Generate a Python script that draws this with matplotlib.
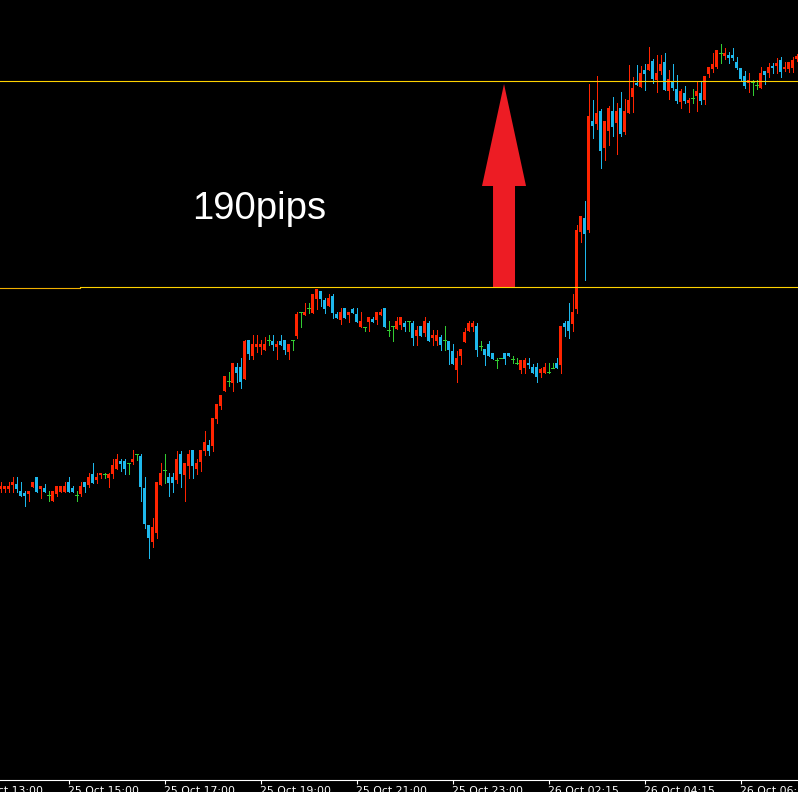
import matplotlib
matplotlib.use('Agg')
import matplotlib.pyplot as plt
import matplotlib.transforms as mtransforms
from matplotlib.patches import FancyArrow

# M5 candles (open / high / low / close), one value per bar
opens = [
    1.0798, 1.0798, 1.0798, 1.0802, 1.0803, 1.0796, 1.0794, 1.0793, 1.0800, 1.0810,
    1.0798, 1.0799, 1.0792, 1.0786, 1.0793, 1.0795, 1.0795, 1.0805, 1.0799, 1.0792,
    1.0793, 1.0805, 1.0802, 1.0813, 1.0807, 1.0812, 1.0813, 1.0809, 1.0813, 1.0818,
    1.0826, 1.0826, 1.0824, 1.0825, 1.0833, 1.0831, 1.0799, 1.0762, 1.0745, 1.0754,
    1.0802, 1.0817, 1.0810, 1.0810, 1.0807, 1.0833, 1.0812, 1.0821, 1.0837, 1.0818,
    1.0825, 1.0836, 1.0842, 1.0841, 1.0868, 1.0881, 1.0896, 1.0906, 1.0904, 1.0920,
    1.0920, 1.0908, 1.0947, 1.0931, 1.0940, 1.0940, 1.0937, 1.0947, 1.0946, 1.0940,
    1.0946, 1.0947, 1.0935, 1.0947, 1.0951, 1.0975, 1.0972, 1.0979, 1.0974, 1.0988,
    1.0996, 1.0987, 1.0981, 1.0991, 1.0973, 1.0967, 1.0979, 1.0972, 1.0978, 1.0973,
    1.0960, 1.0960, 1.0965, 1.0968, 1.0967, 1.0972, 1.0979, 1.0957, 1.0961, 1.0958,
    1.0962, 1.0964, 1.0966, 1.0964, 1.0951, 1.0961, 1.0954, 1.0964, 1.0949, 1.0946,
    1.0950, 1.0947, 1.0946, 1.0936, 1.0917, 1.0931, 1.0945, 1.0956, 1.0960, 1.0961,
    1.0941, 1.0938, 1.0943, 1.0934, 1.0927, 1.0929, 1.0934, 1.0934, 1.0928, 1.0924,
    1.0917, 1.0919, 1.0924, 1.0920, 1.0920, 1.0914, 1.0914, 1.0915, 1.0919, 1.0924,
    1.0922, 1.0964, 1.0966, 1.0963, 1.0978, 1.1055, 1.1069, 1.1057, 1.1166, 1.1163,
    1.1176, 1.1139, 1.1156, 1.1176, 1.1164, 1.1179, 1.1155, 1.1174, 1.1190, 1.1204,
    1.1200, 1.1217, 1.1217, 1.1226, 1.1207, 1.1216, 1.1225, 1.1196, 1.1205, 1.1198,
    1.1185, 1.1194, 1.1184, 1.1189, 1.1191, 1.1194, 1.1187, 1.1213, 1.1218, 1.1220,
    1.1234, 1.1231, 1.1232, 1.1232, 1.1225, 1.1219, 1.1211, 1.1204, 1.1205, 1.1202,
    1.1199, 1.1216, 1.1214, 1.1221, 1.1221, 1.1227, 1.1218, 1.1218, 1.1219, 1.1228,
]
highs = [
    1.0805, 1.0801, 1.0805, 1.0810, 1.0810, 1.0805, 1.0796, 1.0796, 1.0805, 1.0810,
    1.0801, 1.0803, 1.0796, 1.0796, 1.0801, 1.0801, 1.0805, 1.0810, 1.0801, 1.0796,
    1.0805, 1.0805, 1.0814, 1.0824, 1.0814, 1.0814, 1.0814, 1.0814, 1.0828, 1.0833,
    1.0828, 1.0828, 1.0824, 1.0837, 1.0833, 1.0833, 1.0810, 1.0762, 1.0769, 1.0805,
    1.0824, 1.0833, 1.0814, 1.0814, 1.0836, 1.0836, 1.0824, 1.0837, 1.0837, 1.0828,
    1.0837, 1.0856, 1.0847, 1.0869, 1.0883, 1.0892, 1.0911, 1.0915, 1.0924, 1.0924,
    1.0929, 1.0947, 1.0947, 1.0952, 1.0952, 1.0947, 1.0950, 1.0952, 1.0952, 1.0946,
    1.0952, 1.0947, 1.0943, 1.0947, 1.0975, 1.0975, 1.0984, 1.0984, 1.0993, 1.0998,
    1.0996, 1.0989, 1.0993, 1.0993, 1.0975, 1.0979, 1.0979, 1.0975, 1.0979, 1.0979,
    1.0975, 1.0960, 1.0970, 1.0970, 1.0975, 1.0978, 1.0979, 1.0966, 1.0961, 1.0970,
    1.0970, 1.0966, 1.0966, 1.0966, 1.0961, 1.0961, 1.0970, 1.0966, 1.0957, 1.0957,
    1.0952, 1.0961, 1.0946, 1.0943, 1.0936, 1.0938, 1.0959, 1.0966, 1.0966, 1.0964,
    1.0946, 1.0938, 1.0946, 1.0934, 1.0929, 1.0929, 1.0934, 1.0934, 1.0931, 1.0929,
    1.0927, 1.0929, 1.0929, 1.0923, 1.0924, 1.0919, 1.0924, 1.0924, 1.0924, 1.0929,
    1.0961, 1.0966, 1.0984, 1.0993, 1.1062, 1.1071, 1.1086, 1.1203, 1.1187, 1.1211,
    1.1178, 1.1166, 1.1181, 1.1190, 1.1184, 1.1195, 1.1188, 1.1222, 1.1210, 1.1222,
    1.1221, 1.1223, 1.1240, 1.1228, 1.1232, 1.1232, 1.1234, 1.1217, 1.1223, 1.1212,
    1.1198, 1.1201, 1.1189, 1.1198, 1.1205, 1.1205, 1.1211, 1.1220, 1.1234, 1.1237,
    1.1243, 1.1239, 1.1235, 1.1239, 1.1230, 1.1219, 1.1216, 1.1214, 1.1207, 1.1207,
    1.1220, 1.1216, 1.1224, 1.1224, 1.1229, 1.1230, 1.1225, 1.1225, 1.1230, 1.1233,
]
lows = [
    1.0795, 1.0795, 1.0795, 1.0795, 1.0795, 1.0791, 1.0781, 1.0786, 1.0800, 1.0795,
    1.0789, 1.0795, 1.0786, 1.0786, 1.0791, 1.0795, 1.0795, 1.0795, 1.0795, 1.0786,
    1.0791, 1.0795, 1.0800, 1.0804, 1.0804, 1.0809, 1.0809, 1.0800, 1.0809, 1.0818,
    1.0816, 1.0813, 1.0813, 1.0823, 1.0827, 1.0786, 1.0759, 1.0729, 1.0740, 1.0749,
    1.0802, 1.0804, 1.0791, 1.0795, 1.0804, 1.0800, 1.0786, 1.0809, 1.0809, 1.0813,
    1.0816, 1.0832, 1.0832, 1.0836, 1.0864, 1.0878, 1.0896, 1.0901, 1.0896, 1.0905,
    1.0899, 1.0908, 1.0928, 1.0928, 1.0935, 1.0933, 1.0937, 1.0942, 1.0937, 1.0928,
    1.0942, 1.0933, 1.0928, 1.0937, 1.0949, 1.0960, 1.0972, 1.0974, 1.0974, 1.0978,
    1.0981, 1.0974, 1.0981, 1.0969, 1.0969, 1.0963, 1.0969, 1.0965, 1.0974, 1.0965,
    1.0960, 1.0956, 1.0956, 1.0965, 1.0963, 1.0972, 1.0960, 1.0951, 1.0946, 1.0958,
    1.0958, 1.0956, 1.0956, 1.0942, 1.0942, 1.0951, 1.0951, 1.0946, 1.0942, 1.0942,
    1.0937, 1.0937, 1.0923, 1.0923, 1.0905, 1.0923, 1.0945, 1.0956, 1.0956, 1.0931,
    1.0937, 1.0922, 1.0931, 1.0928, 1.0919, 1.0929, 1.0923, 1.0931, 1.0924, 1.0923,
    1.0914, 1.0914, 1.0919, 1.0914, 1.0905, 1.0910, 1.0914, 1.0914, 1.0919, 1.0919,
    1.0914, 1.0951, 1.0949, 1.0956, 1.0974, 1.1045, 1.1007, 1.1055, 1.1149, 1.1158,
    1.1119, 1.1127, 1.1142, 1.1151, 1.1133, 1.1151, 1.1153, 1.1174, 1.1175, 1.1202,
    1.1200, 1.1197, 1.1217, 1.1204, 1.1195, 1.1213, 1.1197, 1.1188, 1.1197, 1.1184,
    1.1179, 1.1184, 1.1175, 1.1184, 1.1176, 1.1183, 1.1183, 1.1210, 1.1215, 1.1219,
    1.1224, 1.1228, 1.1224, 1.1227, 1.1218, 1.1207, 1.1199, 1.1195, 1.1192, 1.1198,
    1.1199, 1.1203, 1.1210, 1.1214, 1.1214, 1.1210, 1.1216, 1.1215, 1.1215, 1.1226,
]
closes = [
    1.0801, 1.0801, 1.0801, 1.0805, 1.0798, 1.0791, 1.0791, 1.0796, 1.0805, 1.0795,
    1.0801, 1.0795, 1.0792, 1.0796, 1.0801, 1.0801, 1.0801, 1.0795, 1.0795, 1.0792,
    1.0801, 1.0800, 1.0810, 1.0804, 1.0810, 1.0814, 1.0813, 1.0813, 1.0822, 1.0828,
    1.0823, 1.0818, 1.0824, 1.0828, 1.0833, 1.0800, 1.0763, 1.0749, 1.0760, 1.0805,
    1.0814, 1.0817, 1.0804, 1.0804, 1.0828, 1.0813, 1.0824, 1.0833, 1.0821, 1.0824,
    1.0837, 1.0845, 1.0836, 1.0869, 1.0883, 1.0892, 1.0911, 1.0906, 1.0924, 1.0914,
    1.0905, 1.0946, 1.0933, 1.0943, 1.0943, 1.0943, 1.0943, 1.0947, 1.0942, 1.0943,
    1.0942, 1.0937, 1.0943, 1.0947, 1.0973, 1.0975, 1.0975, 1.0979, 1.0993, 1.0998,
    1.0988, 1.0978, 1.0989, 1.0974, 1.0969, 1.0975, 1.0969, 1.0975, 1.0974, 1.0965,
    1.0966, 1.0960, 1.0970, 1.0965, 1.0975, 1.0975, 1.0960, 1.0957, 1.0961, 1.0966,
    1.0970, 1.0960, 1.0966, 1.0949, 1.0957, 1.0951, 1.0966, 1.0946, 1.0952, 1.0952,
    1.0942, 1.0947, 1.0937, 1.0923, 1.0929, 1.0938, 1.0955, 1.0964, 1.0964, 1.0937,
    1.0941, 1.0932, 1.0931, 1.0928, 1.0927, 1.0929, 1.0928, 1.0931, 1.0928, 1.0924,
    1.0927, 1.0927, 1.0922, 1.0914, 1.0910, 1.0918, 1.0920, 1.0915, 1.0919, 1.0919,
    1.0961, 1.0960, 1.0956, 1.0975, 1.1057, 1.1071, 1.1053, 1.1171, 1.1161, 1.1174,
    1.1136, 1.1166, 1.1179, 1.1160, 1.1176, 1.1153, 1.1176, 1.1187, 1.1199, 1.1202,
    1.1214, 1.1213, 1.1223, 1.1208, 1.1214, 1.1223, 1.1197, 1.1208, 1.1199, 1.1186,
    1.1196, 1.1186, 1.1187, 1.1189, 1.1196, 1.1186, 1.1211, 1.1220, 1.1223, 1.1237,
    1.1234, 1.1234, 1.1229, 1.1229, 1.1219, 1.1208, 1.1201, 1.1207, 1.1205, 1.1202,
    1.1214, 1.1212, 1.1220, 1.1219, 1.1224, 1.1215, 1.1220, 1.1225, 1.1227, 1.1231,
]

# Horizontal levels drawn on the chart
old_level = 1.0999
low_level = 1.1000
high_level = 1.1206

# Time axis: bar index of each label and its text
label_bars = [-7, 17, 41, 65, 89, 113, 137, 161, 185]
label_texts = ['25 Oct 13:00', '25 Oct 15:00', '25 Oct 17:00', '25 Oct 19:00',
               '25 Oct 21:00', '25 Oct 23:00', '26 Oct 02:15', '26 Oct 04:15',
               '26 Oct 06:15']

UP = '#FF2400'
DOWN = '#1EB8EC'
DOJI = '#32CD32'
LEVEL = '#FFD200'


def draw_candles(ax):
    """Draws wicks and bodies, MT4 style"""
    px = 0.72  # 1 pixel in points at dpi 100
    for i, (o, h, l, c) in enumerate(zip(opens, highs, lows, closes)):
        if c > o:
            color = UP
        elif c < o:
            color = DOWN
        else:
            color = DOJI
        ax.vlines(i, l, h, color=color, linewidth=px, antialiased=False, zorder=2)
        if c == o:
            ax.hlines(o, i - 0.375, i + 0.375, color=color, linewidth=px,
                      antialiased=False, zorder=3)
        else:
            ax.bar(i, abs(c - o), bottom=min(o, c), width=0.75,
                   color=color, linewidth=0, antialiased=False, zorder=3)


def main():
    fig = plt.figure(figsize=(7.98, 7.92), dpi=100, facecolor='black')
    ax = fig.add_axes([0, 12 / 792, 1, 780 / 792], facecolor='black')

    draw_candles(ax)

    # Levels
    ax.axhline(old_level, xmin=0, xmax=0.1, color='#F0B000', linewidth=0.8, zorder=5)
    ax.axhline(low_level, xmin=0.1, xmax=1, color=LEVEL, linewidth=0.8, zorder=5)
    ax.axhline(high_level, xmin=0, xmax=1, color=LEVEL, linewidth=0.8, zorder=5)

    # Arrow between the two levels
    trans = mtransforms.blended_transform_factory(ax.transAxes, ax.transData)
    arrow = FancyArrow(0.6316, low_level, 0, (high_level - low_level) - 0.0003,
                       width=22 / 798, head_width=44 / 798, head_length=0.0102,
                       length_includes_head=True, color='#ED1C24',
                       linewidth=0, transform=trans, zorder=4)
    ax.add_patch(arrow)

    ax.text(0.2406, 0.7192, '190pips', transform=ax.transAxes, color='white',
            fontsize=27.5, family='Liberation Sans', ha='left', va='baseline')

    # Axes
    ax.set_xlim(-0.125, 199.375)
    ax.set_ylim(1.0507, 1.1287)
    for side in ['top', 'left', 'right']:
        ax.spines[side].set_visible(False)
    ax.spines['bottom'].set_color('white')
    ax.spines['bottom'].set_linewidth(0.8)
    ax.set_yticks([])
    ax.set_xticks([b for b in label_bars if b >= 0])
    ax.tick_params(axis='x', direction='out', length=3, width=0.8,
                   colors='white', labelbottom=False)

    lab_trans = mtransforms.blended_transform_factory(ax.transData, ax.transAxes)
    for b, t in zip(label_bars, label_texts):
        ax.text(b, -6 / 780, t, transform=lab_trans, color='white',
                fontsize=7.8, family='DejaVu Sans', ha='left', va='top',
                clip_on=False)

    fig.savefig('out.png', dpi=100, facecolor='black')
    plt.close(fig)


if __name__ == '__main__':
    main()
